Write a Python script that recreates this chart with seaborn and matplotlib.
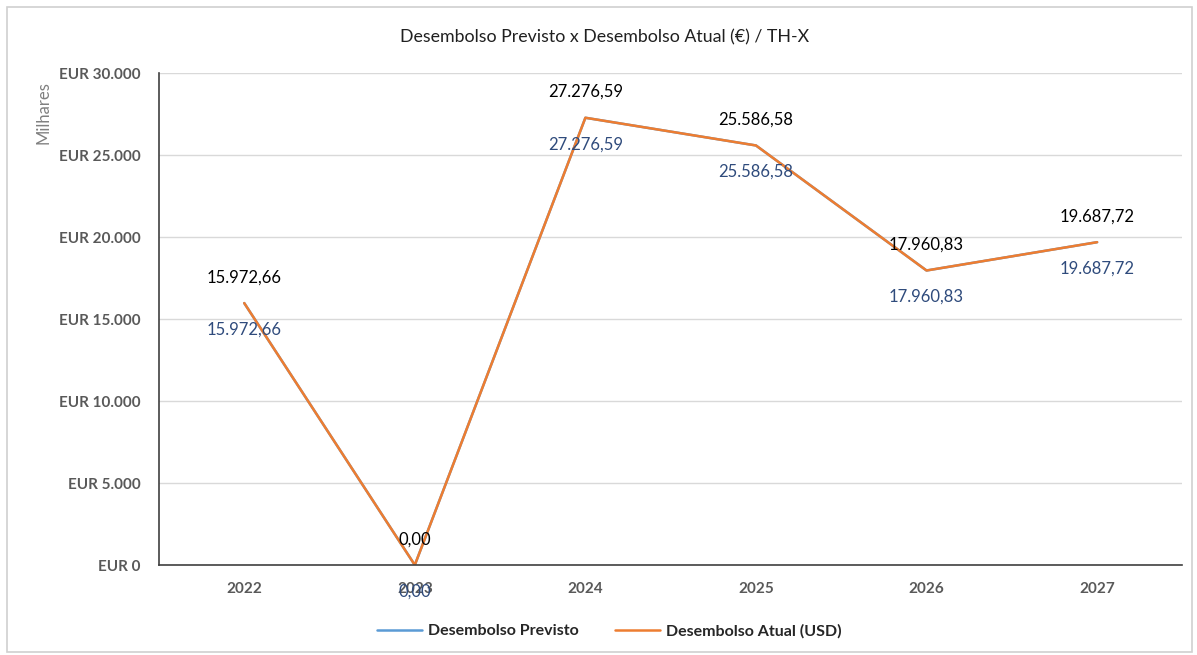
import numpy as np
import pandas as pd
import seaborn as sns
from matplotlib import pyplot as plt
from matplotlib.ticker import FuncFormatter, FixedLocator

anos = ['2022', '2023', '2024', '2025', '2026', '2027']
previsto = [15972.66, 0.00, 27276.59, 25586.58, 17960.83, 19687.72]
atual = [15972.66, 0.00, 27276.59, 25586.58, 17960.83, 19687.72]
series = ['Desembolso Previsto', 'Desembolso Atual (USD)']

df = pd.DataFrame({
    'ano': anos * 2,
    'valor': previsto + atual,
    'serie': [series[0]] * len(anos) + [series[1]] * len(anos),
})

sns.set_style('white')
plt.rcParams['font.family'] = ['Lato', 'DejaVu Sans']

def fmt_br(v):
    s = f'{v:,.2f}'
    return s.replace(',', 'X').replace('.', ',').replace('X', '.')

fig = plt.figure(figsize=(11.97, 6.55), dpi=100)
ax = fig.add_axes([0.1328, 0.1374, 0.855, 0.751])

cores = {series[0]: '#5B9BD5', series[1]: '#ED7D31'}
sns.lineplot(data=df, x='ano', y='valor', hue='serie', palette=cores,
             linewidth=1.8, ax=ax, sort=False)

ax.set_xlim(-0.5, 5.5)
ax.set_ylim(0, 30000)
ax.yaxis.set_major_locator(FixedLocator(np.arange(0, 30001, 5000)))
ax.yaxis.set_major_formatter(FuncFormatter(
    lambda v, p: 'EUR ' + f'{v:,.0f}'.replace(',', '.')))
ax.grid(axis='y', color='#d9d9d9', linewidth=1)
ax.set_axisbelow(True)

for sp in ['top', 'right']:
    ax.spines[sp].set_visible(False)
for sp in ['left', 'bottom']:
    ax.spines[sp].set_color('#404040')
    ax.spines[sp].set_linewidth(1.2)

# ticks between categories on x
ax.set_xticks(np.arange(-0.5, 6, 1), minor=True)
ax.tick_params(axis='x', which='minor', length=12, direction='inout',
               color='#404040', width=1.2)
ax.tick_params(axis='x', which='major', length=0, pad=12, labelsize=11,
               labelcolor='#595959')
ax.tick_params(axis='y', length=10, direction='inout', color='#404040',
               width=1.2, pad=8, labelsize=11, labelcolor='#595959')
for lab in ax.get_xticklabels() + ax.get_yticklabels():
    lab.set_fontweight('bold')

ax.set_xlabel('')
ax.set_ylabel('Milhares', color='#808080', fontsize=12)
ax.yaxis.set_label_coords(-0.105, 0.92)

for i, v in enumerate(atual):
    ax.annotate(fmt_br(v), (i, v), xytext=(0, 18.5), textcoords='offset points',
                ha='center', va='center', fontsize=12, color='black')
for i, v in enumerate(previsto):
    ax.annotate(fmt_br(v), (i, v), xytext=(0, -19), textcoords='offset points',
                ha='center', va='center', fontsize=12, color='#2F4B7C')

fig.text(0.505, 0.943, 'Desembolso Previsto x Desembolso Atual (€) / TH-X',
         ha='center', va='center', fontsize=12.8, color='#202020')

leg = ax.legend(loc='upper center', bbox_to_anchor=(0.44, -0.09), ncol=2,
                frameon=False, fontsize=11.5, handlelength=2.8,
                handletextpad=0.35, columnspacing=2.3)
for t in leg.get_texts():
    t.set_fontweight('bold')

fig.patches.append(plt.Rectangle((0.006, 0.005), 0.99, 0.985, fill=False,
                                 edgecolor='#d0d0d0', linewidth=1.2,
                                 transform=fig.transFigure))

fig.savefig('out.png', dpi=100, facecolor='white')
